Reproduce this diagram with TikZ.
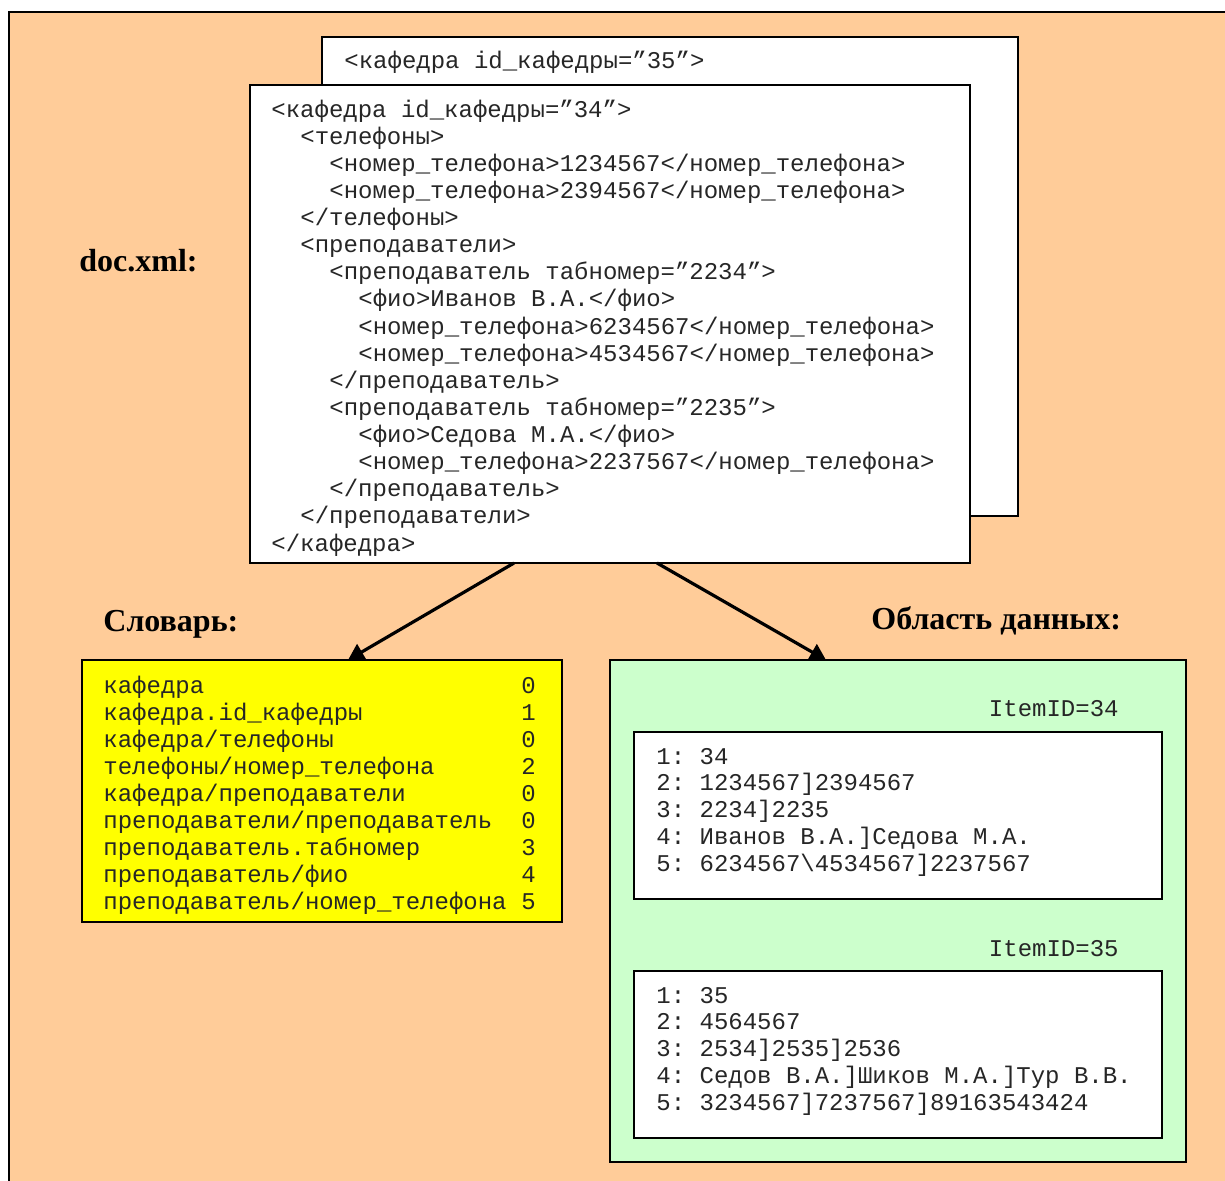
\documentclass[tikz,border=0pt]{standalone}
\usepackage{fontspec}
\setmainfont{Liberation Serif}
\setmonofont{Liberation Mono}
\usetikzlibrary{arrows.meta}
\definecolor{bgorange}{HTML}{FFCC99}
\definecolor{dictyellow}{HTML}{FFFF00}
\definecolor{datagreen}{HTML}{CCFFCC}
\tikzset{
  box/.style={draw=black, line width=1.2pt, inner sep=0pt, outer sep=0pt, anchor=north west},
  mono/.style={font=\ttfamily\fontsize{12}{13.5}\selectfont, text=black!85, inner sep=0pt, anchor=base west},
  lbl/.style={font=\bfseries\fontsize{16}{19}\selectfont, inner sep=0pt, anchor=base west},
  arr/.style={line width=1.6pt, -{Triangle[length=8pt,width=9pt]}},
}
\begin{document}
\begin{tikzpicture}[x=0.5pt,y=-0.5pt]
\useasboundingbox (0,0) rectangle (1225,1180);
% background frame
\node[box, fill=bgorange, line width=1.4pt, minimum width=620pt, minimum height=600pt] (frame) at (9,12) {};
% xml documents
\node[box, fill=white, minimum width=348pt, minimum height=239.5pt] (back) at (322,37) {};
\node[box, fill=white, minimum width=360pt, minimum height=239pt] (front) at (250,85) {};
\node[mono] (backtxt) at (344,68) {<кафедра id\_кафедры=”35”>};
\foreach \x/\t [count=\i] in {
  271/{<кафедра id\_кафедры=”34”>},
  300/{<телефоны>},
  329/{<номер\_телефона>1234567</номер\_телефона>},
  329/{<номер\_телефона>2394567</номер\_телефона>},
  300/{</телефоны>},
  300/{<преподаватели>},
  329/{<преподаватель табномер=”2234”>},
  358/{<фио>Иванов В.А.</фио>},
  358/{<номер\_телефона>6234567</номер\_телефона>},
  358/{<номер\_телефона>4534567</номер\_телефона>},
  329/{</преподаватель>},
  329/{<преподаватель табномер=”2235”>},
  358/{<фио>Седова М.А.</фио>},
  358/{<номер\_телефона>2237567</номер\_телефона>},
  329/{</преподаватель>},
  300/{</преподаватели>},
  271/{</кафедра>}}
  \node[mono] (xml\i) at (\x,{117+(\i-1)*27.125}) {\t};
% labels
\node[lbl] (doclbl) at (79,271) {doc.xml:};
\node[lbl] (dictlbl) at (103,631) {Словарь:};
\node[lbl] (datalbl) at (871,629) {Область данных:};
% dictionary
\node[box, fill=dictyellow, minimum width=240pt, minimum height=131pt] (dict) at (82,660) {};
\foreach \n/\v [count=\i] in {
  {кафедра}/0,
  {кафедра.id\_кафедры}/1,
  {кафедра/телефоны}/0,
  {телефоны/номер\_телефона}/2,
  {кафедра/преподаватели}/0,
  {преподаватели/преподаватель}/0,
  {преподаватель.табномер}/3,
  {преподаватель/фио}/4,
  {преподаватель/номер\_телефона}/5}
{
  \node[mono] (dn\i) at (103,{693+(\i-1)*27}) {\n};
  \node[mono] (dv\i) at (521,{693+(\i-1)*27}) {\v};
}
% data area
\node[box, fill=datagreen, minimum width=288pt, minimum height=251pt] (data) at (610,660) {};
\node[box, fill=white, minimum width=264pt, minimum height=83.5pt] (item34) at (634,732) {};
\node[box, fill=white, minimum width=264pt, minimum height=83.5pt] (item35) at (634,971) {};
\node[mono, anchor=base east] (id34) at (1119,716) {ItemID=34};
\node[mono, anchor=base east] (id35) at (1119,956) {ItemID=35};
\foreach \t [count=\i] in {
  {1: 34},
  {2: 1234567]2394567},
  {3: 2234]2235},
  {4: Иванов В.А.]Седова М.А.},
  {5: 6234567\textbackslash 4534567]2237567}}
  \node[mono] (a\i) at (656,{764+(\i-1)*26.75}) {\t};
\foreach \t [count=\i] in {
  {1: 35},
  {2: 4564567},
  {3: 2534]2535]2536},
  {4: Седов В.А.]Шиков М.А.]Тур В.В.},
  {5: 3234567]7237567]89163543424}}
  \node[mono] (b\i) at (656,{1003+(\i-1)*26.75}) {\t};
% connectors
\draw[arr] ([xshift=132pt]front.south west) -- ([xshift=133pt]dict.north west);
\draw[arr] ([xshift=203.5pt]front.south west) -- ([xshift=108pt]data.north west);
\end{tikzpicture}
\end{document}
